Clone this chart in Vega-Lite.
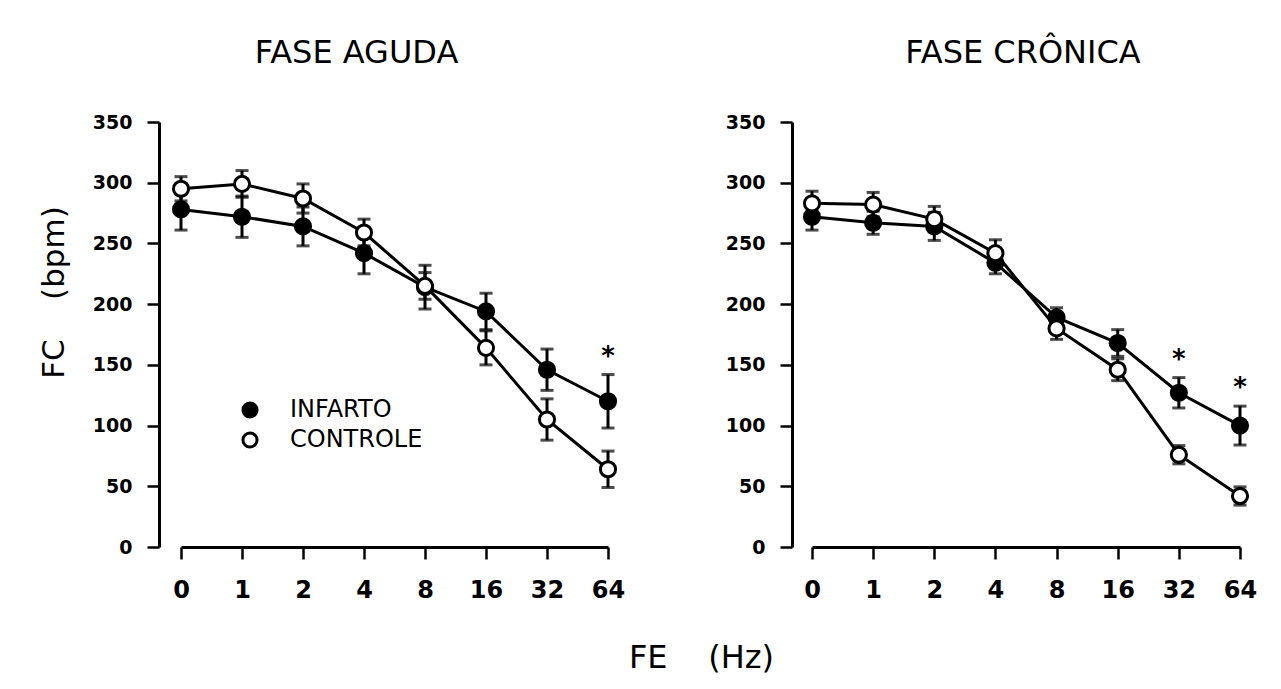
{
  "$schema": "https://vega.github.io/schema/vega-lite/v6.json",
  "padding": {"left": 38, "top": 37, "right": 5, "bottom": 5},
  "bounds": "flush",
  "spacing": 204,
  "datasets": {
    "pts": [
      {"panel": "A", "fe": "0", "group": "INFARTO", "bpm": 278, "se": 17},
      {"panel": "A", "fe": "1", "group": "INFARTO", "bpm": 272, "se": 17},
      {"panel": "A", "fe": "2", "group": "INFARTO", "bpm": 264, "se": 16},
      {"panel": "A", "fe": "4", "group": "INFARTO", "bpm": 242, "se": 17},
      {"panel": "A", "fe": "8", "group": "INFARTO", "bpm": 214, "se": 18},
      {"panel": "A", "fe": "16", "group": "INFARTO", "bpm": 194, "se": 15},
      {"panel": "A", "fe": "32", "group": "INFARTO", "bpm": 146, "se": 17},
      {"panel": "A", "fe": "64", "group": "INFARTO", "bpm": 120, "se": 22},
      {"panel": "A", "fe": "0", "group": "CONTROLE", "bpm": 295, "se": 10},
      {"panel": "A", "fe": "1", "group": "CONTROLE", "bpm": 299, "se": 11},
      {"panel": "A", "fe": "2", "group": "CONTROLE", "bpm": 287, "se": 12},
      {"panel": "A", "fe": "4", "group": "CONTROLE", "bpm": 259, "se": 11},
      {"panel": "A", "fe": "8", "group": "CONTROLE", "bpm": 215, "se": 11},
      {"panel": "A", "fe": "16", "group": "CONTROLE", "bpm": 164, "se": 14},
      {"panel": "A", "fe": "32", "group": "CONTROLE", "bpm": 105, "se": 17},
      {"panel": "A", "fe": "64", "group": "CONTROLE", "bpm": 64, "se": 15},
      {"panel": "C", "fe": "0", "group": "INFARTO", "bpm": 272, "se": 11},
      {"panel": "C", "fe": "1", "group": "INFARTO", "bpm": 267, "se": 9.5},
      {"panel": "C", "fe": "2", "group": "INFARTO", "bpm": 264, "se": 11.5},
      {"panel": "C", "fe": "4", "group": "INFARTO", "bpm": 234, "se": 9},
      {"panel": "C", "fe": "8", "group": "INFARTO", "bpm": 189, "se": 8},
      {"panel": "C", "fe": "16", "group": "INFARTO", "bpm": 168, "se": 11},
      {"panel": "C", "fe": "32", "group": "INFARTO", "bpm": 127, "se": 12.5},
      {"panel": "C", "fe": "64", "group": "INFARTO", "bpm": 100, "se": 16},
      {"panel": "C", "fe": "0", "group": "CONTROLE", "bpm": 283, "se": 10},
      {"panel": "C", "fe": "1", "group": "CONTROLE", "bpm": 282, "se": 10},
      {"panel": "C", "fe": "2", "group": "CONTROLE", "bpm": 270, "se": 10.5},
      {"panel": "C", "fe": "4", "group": "CONTROLE", "bpm": 242, "se": 11},
      {"panel": "C", "fe": "8", "group": "CONTROLE", "bpm": 180, "se": 9},
      {"panel": "C", "fe": "16", "group": "CONTROLE", "bpm": 146, "se": 9},
      {"panel": "C", "fe": "32", "group": "CONTROLE", "bpm": 76, "se": 7.5},
      {"panel": "C", "fe": "64", "group": "CONTROLE", "bpm": 42, "se": 7.5}
    ],
    "stars": [
      {"panel": "A", "fe": "64", "bpm": 162},
      {"panel": "C", "fe": "32", "bpm": 160},
      {"panel": "C", "fe": "64", "bpm": 137}
    ]
  },
  "hconcat": [
    {
      "width": 427,
      "height": 425,
      "title": {"text": "FASE AGUDA", "dx": -38, "offset": 43},
      "encoding": {
        "x": {
          "field": "fe", "type": "ordinal",
          "scale": {"type": "point", "padding": 0, "domain": ["0", "1", "2", "4", "8", "16", "32", "64"]},
          "axis": {"title": "FE\u00a0\u00a0\u00a0\u00a0(Hz)", "labelAngle": 0, "labelFontSize": 24, "labelPadding": 19,
                   "titleX": 520, "titleY": 120, "titleBaseline": "alphabetic", "titleAlign": "center", "titleFontSize": 32}
        },
        "y": {
          "field": "bpm", "type": "quantitative",
          "scale": {"domain": [0, 350], "nice": false},
          "axis": {"values": [0, 50, 100, 150, 200, 250, 300, 350], "offset": 22, "labelFontSize": 19, "labelPadding": 15,
                   "title": "FC\u00a0\u00a0\u00a0\u00a0(bpm)", "titlePadding": 22, "titleY": 170}
        }
      },
      "layer": [
        {
          "data": {"name": "pts"},
          "transform": [{"filter": "datum.panel === 'A'"}],
          "mark": {"type": "line", "color": "black", "strokeWidth": 3},
          "encoding": {"detail": {"field": "group"}}
        },
        {
          "data": {"name": "pts"},
          "transform": [{"filter": "datum.panel === 'A'"}],
          "mark": {"type": "errorbar", "ticks": {"size": 13, "thickness": 3, "color": "black"}, "rule": {"strokeWidth": 3, "color": "black"}, "thickness": 3, "color": "black"},
          "encoding": {"yError": {"field": "se"}, "detail": {"field": "group"}}
        },
        {
          "data": {"name": "pts"},
          "transform": [{"filter": "datum.panel === 'A'"}],
          "mark": {"type": "circle", "size": 230, "stroke": "black", "strokeWidth": 3, "opacity": 1, "fillOpacity": 1},
          "encoding": {
            "fill": {
              "field": "group", "type": "nominal",
              "scale": {"domain": ["INFARTO", "CONTROLE"], "range": ["black", "white"]},
              "legend": {"orient": "none", "legendX": 57, "legendY": 276, "title": null,
                         "labelFont": "DejaVu Sans", "labelFontSize": 24, "labelColor": "black",
                         "symbolType": "circle", "symbolSize": 200, "symbolStrokeColor": "black",
                         "symbolStrokeWidth": 3, "symbolOpacity": 1, "labelOffset": 28, "rowPadding": 2}
            }
          }
        },
        {
          "data": {"name": "stars"},
          "transform": [{"filter": "datum.panel === 'A'"}],
          "mark": {"type": "text", "text": "*", "font": "DejaVu Sans", "fontSize": 26, "fontWeight": "bold", "baseline": "alphabetic", "dy": 15, "color": "black"}
        }
      ]
    },
    {
      "width": 428,
      "height": 425,
      "title": {"text": "FASE CRÔNICA", "dx": -3, "offset": 43},
      "encoding": {
        "x": {
          "field": "fe", "type": "ordinal",
          "scale": {"type": "point", "padding": 0, "domain": ["0", "1", "2", "4", "8", "16", "32", "64"]},
          "axis": {"title": null, "labelAngle": 0, "labelFontSize": 24, "labelPadding": 19}
        },
        "y": {
          "field": "bpm", "type": "quantitative",
          "scale": {"domain": [0, 350], "nice": false},
          "axis": {"values": [0, 50, 100, 150, 200, 250, 300, 350], "offset": 20, "labelFontSize": 19, "labelPadding": 15, "title": null}
        }
      },
      "layer": [
        {
          "data": {"name": "pts"},
          "transform": [{"filter": "datum.panel === 'C'"}],
          "mark": {"type": "line", "color": "black", "strokeWidth": 3},
          "encoding": {"detail": {"field": "group"}}
        },
        {
          "data": {"name": "pts"},
          "transform": [{"filter": "datum.panel === 'C'"}],
          "mark": {"type": "errorbar", "ticks": {"size": 13, "thickness": 3, "color": "black"}, "rule": {"strokeWidth": 3, "color": "black"}, "thickness": 3, "color": "black"},
          "encoding": {"yError": {"field": "se"}, "detail": {"field": "group"}}
        },
        {
          "data": {"name": "pts"},
          "transform": [{"filter": "datum.panel === 'C'"}],
          "mark": {"type": "circle", "size": 230, "stroke": "black", "strokeWidth": 3, "opacity": 1, "fillOpacity": 1},
          "encoding": {
            "fill": {
              "field": "group", "type": "nominal",
              "scale": {"domain": ["INFARTO", "CONTROLE"], "range": ["black", "white"]},
              "legend": null
            }
          }
        },
        {
          "data": {"name": "stars"},
          "transform": [{"filter": "datum.panel === 'C'"}],
          "mark": {"type": "text", "text": "*", "font": "DejaVu Sans", "fontSize": 26, "fontWeight": "bold", "baseline": "alphabetic", "dy": 15, "color": "black"}
        }
      ]
    }
  ],
  "resolve": {"legend": {"fill": "independent"}, "scale": {"fill": "independent"}},
  "config": {
    "view": {"stroke": null},
    "background": "white",
    "title": {"font": "DejaVu Sans", "fontSize": 32, "fontWeight": "normal", "color": "black", "anchor": "middle"},
    "axis": {
      "domainColor": "black", "domainWidth": 3, "tickColor": "black", "tickWidth": 2.5, "tickSize": 12,
      "labelColor": "black", "labelFont": "DejaVu Sans", "labelFontWeight": "bold", "grid": false,
      "titleFont": "DejaVu Sans", "titleFontWeight": "normal", "titleFontSize": 31, "titleColor": "black"
    }
  }
}
